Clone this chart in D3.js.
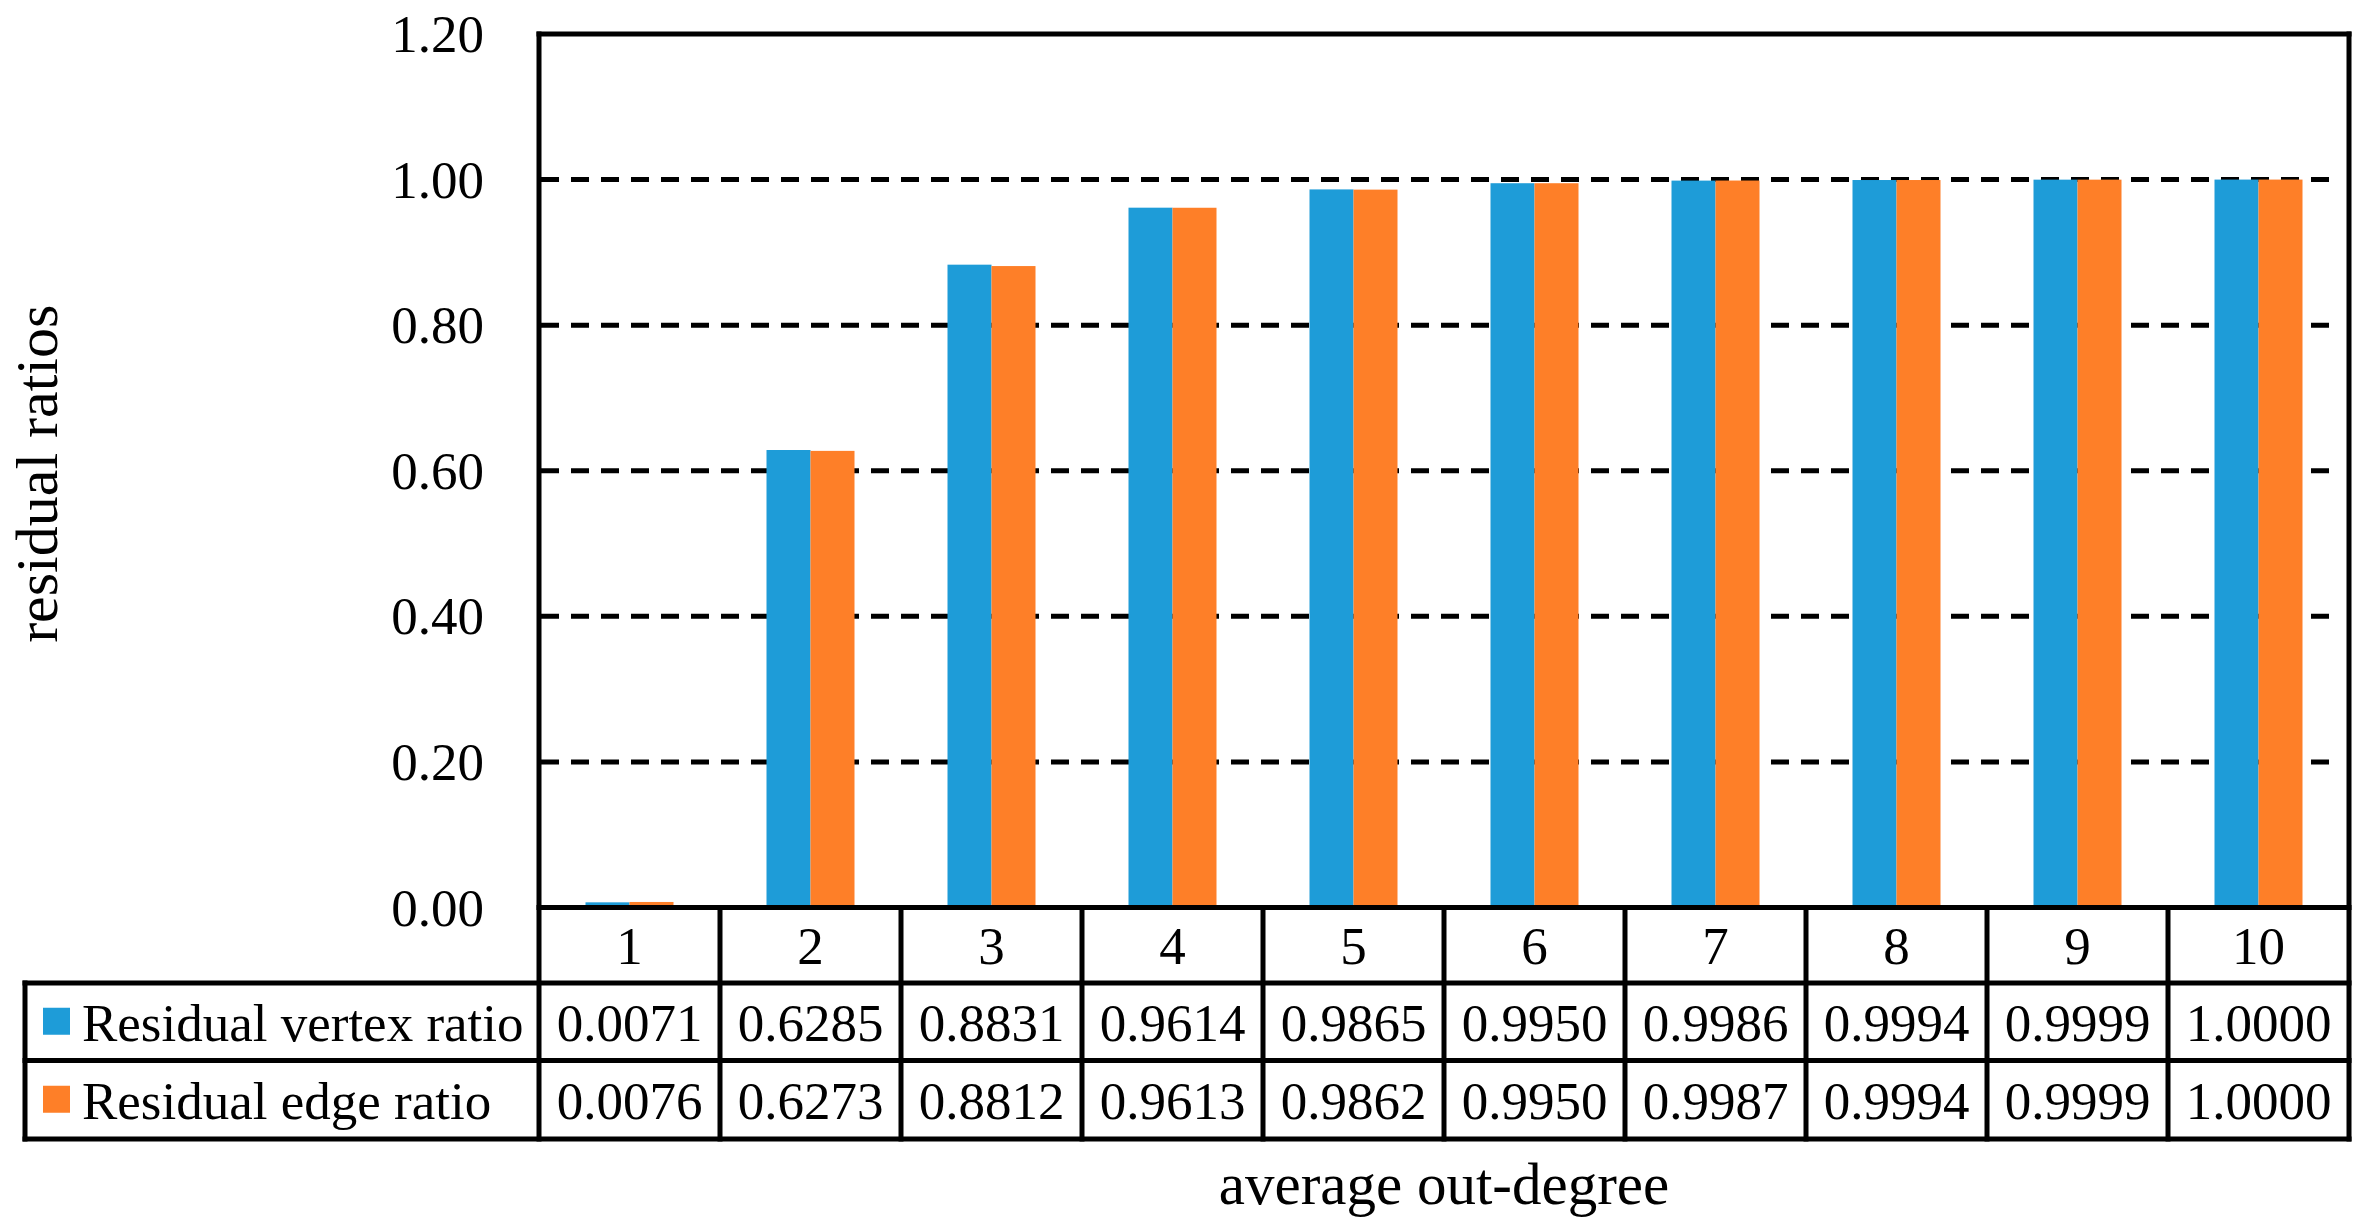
<!DOCTYPE html>
<html>
<head>
<meta charset="utf-8">
<script src="https://cdn.jsdelivr.net/npm/d3@7"></script>
<style>
html,body{margin:0;padding:0;background:#fff;}
svg{display:block;}
text{font-family:"Liberation Serif","Times New Roman",serif;fill:#000;}
</style>
</head>
<body>
<script>
const categories = ["1","2","3","4","5","6","7","8","9","10"];
const seriesNames = ["Residual vertex ratio","Residual edge ratio"];
const vertexRatio = [0.0071,0.6285,0.8831,0.9614,0.9865,0.9950,0.9986,0.9994,0.9999,1.0000];
const edgeRatio = [0.0076,0.6273,0.8812,0.9613,0.9862,0.9950,0.9987,0.9994,0.9999,1.0000];
const yTicks = [0,0.2,0.4,0.6,0.8,1.0,1.2];
const colors = ["#1e9cd8","#fe7f28"];
const xTitle = "average out-degree";
const yTitle = "residual ratios";

(function(){
const W = 2367, H = 1232;
const pLeft = 539, pRight = 2349, pTop = 34, pBottom = 907.5;
const row1 = 983, row2 = 1060.5, row3 = 1139, tableLeft = 25;
const lw = 5;
const fs = 53;

const svg = d3.select("body").append("svg").attr("width", W).attr("height", H);

const x = d3.scaleBand().domain(categories).range([pLeft, pRight]).padding(0);
const y = d3.scaleLinear().domain([0, 1.2]).range([pBottom, pTop]);
const barW = 44;
const xs = d3.scaleBand().domain([0,1]).range([-barW, barW]).padding(0);

// gridlines
svg.append("g").selectAll("line").data(yTicks.filter(d => d > 0 && d < 1.2)).join("line")
  .attr("x1", pLeft + 2).attr("x2", pRight - 12)
  .attr("y1", d => y(d)).attr("y2", d => y(d))
  .attr("stroke", "#000").attr("stroke-width", lw).attr("stroke-dasharray", "18,12");

// bars
const data = [vertexRatio, edgeRatio];
data.forEach((vals, si) => {
  svg.append("g").selectAll("rect").data(vals).join("rect")
    .attr("x", (d, i) => x(categories[i]) + x.bandwidth()/2 + xs(si))
    .attr("width", xs.bandwidth())
    .attr("y", d => y(d))
    .attr("height", d => pBottom - y(d))
    .attr("fill", colors[si]);
});

// y tick labels
svg.append("g").selectAll("text").data(yTicks).join("text")
  .attr("x", 484).attr("y", d => y(d) + 18)
  .attr("text-anchor", "end").attr("font-size", fs)
  .text(d => d.toFixed(2));

// frame and table lines
const g = svg.append("g").attr("stroke", "#000").attr("stroke-width", lw).attr("stroke-linecap", "square").attr("fill", "none");
g.append("line").attr("x1", pLeft).attr("x2", pRight).attr("y1", pTop).attr("y2", pTop);
g.append("line").attr("x1", pLeft).attr("x2", pLeft).attr("y1", pTop).attr("y2", row3);
g.append("line").attr("x1", pRight).attr("x2", pRight).attr("y1", pTop).attr("y2", row3);
g.append("line").attr("x1", pLeft).attr("x2", pRight).attr("y1", pBottom).attr("y2", pBottom);
[row1, row2, row3].forEach(r => g.append("line").attr("x1", tableLeft).attr("x2", pRight).attr("y1", r).attr("y2", r));
g.append("line").attr("x1", tableLeft).attr("x2", tableLeft).attr("y1", row1).attr("y2", row3);
g.selectAll("line.v").data(categories.slice(1)).join("line").attr("class","v")
  .attr("x1", d => x(d)).attr("x2", d => x(d)).attr("y1", pBottom).attr("y2", row3);

// category labels
svg.append("g").selectAll("text").data(categories).join("text")
  .attr("x", d => x(d) + x.bandwidth()/2).attr("y", (pBottom + row1)/2 + 19)
  .attr("text-anchor", "middle").attr("font-size", fs).text(d => d);

// value rows
const rowsY = [(row1 + row2)/2, (row2 + row3)/2];
data.forEach((vals, si) => {
  svg.append("g").selectAll("text").data(vals).join("text")
    .attr("x", (d, i) => x(categories[i]) + x.bandwidth()/2).attr("y", rowsY[si] + 19)
    .attr("text-anchor", "middle").attr("font-size", fs).text(d => d.toFixed(4));
  svg.append("rect").attr("x", 43).attr("y", rowsY[si] - 14).attr("width", 27).attr("height", 27).attr("fill", colors[si]);
  svg.append("text").attr("x", 82).attr("y", rowsY[si] + 19).attr("font-size", fs).text(seriesNames[si]);
});

// axis titles
svg.append("text").attr("x", (pLeft + pRight)/2).attr("y", 1204).attr("text-anchor", "middle").attr("font-size", 59).text(xTitle);
svg.append("text").attr("transform", `translate(57,${(pTop + pBottom)/2 + 3}) rotate(-90)`).attr("text-anchor", "middle").attr("font-size", 60).text(yTitle);
})();
</script>
</body>
</html>
